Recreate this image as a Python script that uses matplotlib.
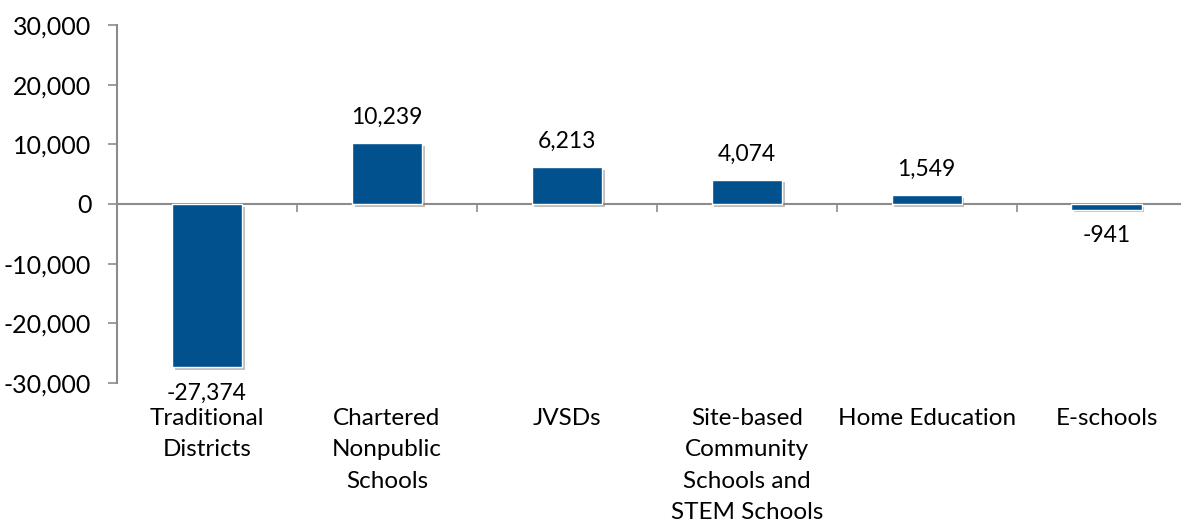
import numpy as np
import matplotlib.pyplot as plt
import matplotlib.transforms as mtransforms
import matplotlib.patheffects as pe
from matplotlib.ticker import FuncFormatter

plt.rcParams['font.family'] = ['Lato', 'DejaVu Sans']

# data
categories = ["Traditional\nDistricts", "Chartered\nNonpublic\nSchools", "JVSDs",
              "Site-based\nCommunity\nSchools and\nSTEM Schools", "Home Education", "E-schools"]
values = [-27374, 10239, 6213, 4074, 1549, -941]

bar_color = "#00518E"
axis_color = "#8C8C8C"

fig = plt.figure(figsize=(11.88, 5.23), dpi=100)
ax = fig.add_axes([0.0985, 0.268, 0.895, 0.684])

x = np.arange(len(categories))
bars = ax.bar(x, values, width=0.39, color=bar_color, edgecolor="white", linewidth=1, zorder=3)
for b in bars:
    b.set_path_effects([pe.SimplePatchShadow(offset=(2, -2), shadow_rgbFace="#808080", alpha=0.5),
                        pe.Normal()])

# value labels
for xi, v in zip(x, values):
    off = 11 if v >= 0 else -11
    ax.annotate(f"{v:,}", (xi, v), xytext=(0, off), textcoords="offset points",
                ha="center", va="bottom" if v >= 0 else "top", fontsize=16.5)

# the last category is cut off at the right edge, as in the original
ax.set_xlim(-0.5, len(categories) - 0.59)
ax.set_ylim(-30000, 30000)
ax.set_yticks(np.arange(-30000, 30001, 10000))
ax.yaxis.set_major_formatter(FuncFormatter(lambda v, p: f"{int(v):,}"))
ax.tick_params(axis="y", direction="out", length=6.5, width=1.2, color=axis_color,
               labelsize=18, pad=12)

for s in ["top", "right"]:
    ax.spines[s].set_visible(False)
ax.spines["left"].set_color(axis_color)
ax.spines["left"].set_linewidth(1.5)
ax.spines["bottom"].set_position(("data", 0))
ax.spines["bottom"].set_color(axis_color)
ax.spines["bottom"].set_linewidth(1.5)
ax.spines["bottom"].set_zorder(2)

# category boundary ticks on the zero line
ax.set_xticks(np.arange(0.5, len(categories) - 0.5, 1))
ax.set_xticklabels([])
ax.tick_params(axis="x", direction="out", length=6, width=1.2, color=axis_color)

# category labels below the plot area
trans = mtransforms.blended_transform_factory(ax.transData, ax.transAxes)
for xi, c in zip(x, categories):
    ax.text(xi, -0.07, c, transform=trans, ha="center", va="top", fontsize=17.5,
            linespacing=1.62)

fig.savefig("out.png", dpi=100)
